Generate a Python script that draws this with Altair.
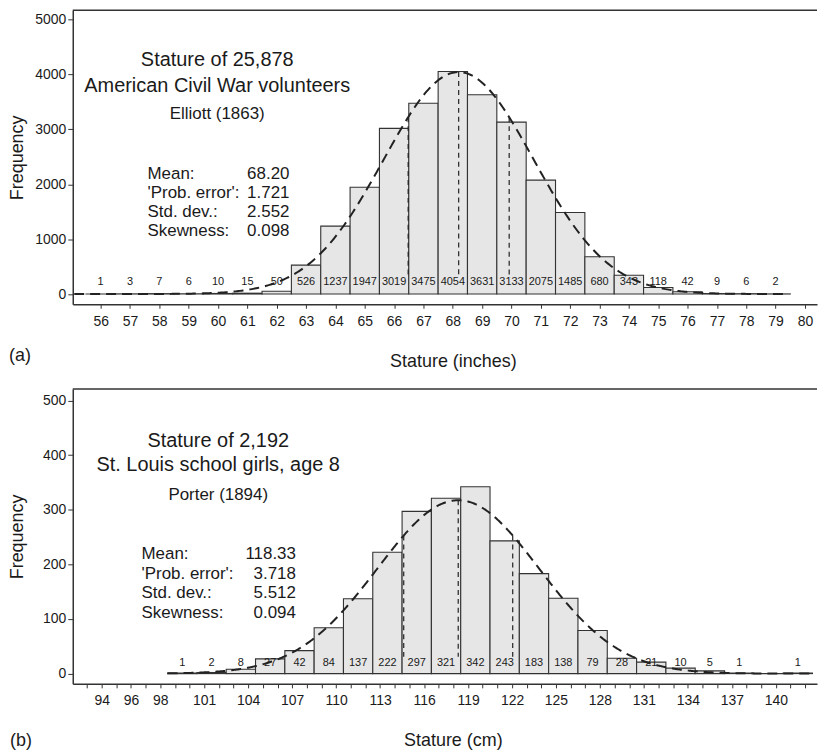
import altair as alt
import pandas as pd

FONT = "Liberation Sans"
INK = "#1a1a1a"
LINE = "#333333"

# ---------------- Panel (a): Elliott (1863), inches ----------------
a_bins = [56, 57, 58, 59, 60, 61, 62, 63, 64, 65, 66, 67, 68, 69, 70, 71, 72, 73, 74, 75, 76, 77, 78, 79]
a_counts = [1, 3, 7, 6, 10, 15, 50, 526, 1237, 1947, 3019, 3475, 4054, 3631, 3133, 2075, 1485, 680, 343, 118, 42, 9, 6, 2]
a_ticks = list(range(56, 81))
a_tick_labels = list(range(56, 81))
a_yticks = [0, 1000, 2000, 3000, 4000, 5000]
a_title = ["Stature of 25,878", "American Civil War volunteers"]
a_source = "Elliott (1863)"
a_stat_names = ["Mean:", "'Prob. error':", "Std. dev.:", "Skewness:"]
a_stat_values = ["68.20", "1.721", "2.552", "0.098"]
a_mean, a_pe, a_sd, a_n, a_binw = 68.20, 1.721, 2.552, 25878, 1.0

# ---------------- Panel (b): Porter (1894), cm ----------------
b_bins = [99.5, 101.5, 103.5, 105.5, 107.5, 109.5, 111.5, 113.5, 115.5, 117.5, 119.5,
          121.5, 123.5, 125.5, 127.5, 129.5, 131.5, 133.5, 135.5, 137.5, 139.5, 141.5]
b_counts = [1, 2, 8, 27, 42, 84, 137, 222, 297, 321, 342, 243, 183, 138, 79, 28, 21, 10, 5, 1, 0, 1]
b_ticks = list(range(93, 143))
b_tick_labels = [94, 96, 98, 101, 104, 107, 110, 113, 116, 119, 122, 125, 128, 131, 134, 137, 140]
b_yticks = [0, 100, 200, 300, 400, 500]
b_title = ["Stature of 2,192", "St. Louis school girls, age 8"]
b_source = "Porter (1894)"
b_stat_names = ["Mean:", "'Prob. error':", "Std. dev.:", "Skewness:"]
b_stat_values = ["118.33", "3.718", "5.512", "0.094"]
b_mean, b_pe, b_sd, b_n, b_binw = 118.33, 3.718, 5.512, 2192, 2.0

W = 747


def txt(s, x, y, size, align="center", baseline="middle"):
    return alt.Chart(pd.DataFrame({"t": [s]})).mark_text(
        text=s, font=FONT, fontSize=size, color=INK, align=align, baseline=baseline
    ).encode(x=alt.value(x), y=alt.value(y))


def panel(bins, counts, binw, ticks, tick_labels, yticks, xdom, ydom, height, label_y, line_base,
          mean, pe, sd, n, curve_from, curve_to, title, source, names, values,
          pos, xtitle, tag):
    df = pd.DataFrame({"bin": bins, "count": counts})
    xs = alt.Scale(domain=xdom, nice=False, zero=False)
    ys = alt.Scale(domain=ydom, nice=False, zero=False)
    lab_list = ",".join(str(v) for v in tick_labels)
    xaxis = alt.Axis(values=ticks, title=xtitle, grid=False, tickSize=4, labelPadding=6,
                     format="d",
                     labelFontSize=14, labelFont=FONT, labelColor=INK, labelOverlap=False,
                     labelFlush=False, labelExpr=f"indexof([{lab_list}], datum.value) >= 0 ? datum.label : ''",
                     titleFont=FONT, titleFontSize=18, titleFontWeight="normal", titleColor=INK,
                     titleX=381.5, titleY=57, titleBaseline="middle",
                     domainColor=LINE, domainWidth=1.5, tickColor=LINE)
    yaxis = alt.Axis(values=yticks, title="Frequency", grid=False, tickSize=5, labelPadding=2,
                     format="d",
                     labelFontSize=14, labelFont=FONT, labelColor=INK,
                     titleFont=FONT, titleFontSize=18, titleFontWeight="normal", titleColor=INK,
                     titleX=-55.5, titleY=height / 2, titleBaseline="middle",
                     domainColor=LINE, domainWidth=1.5, tickColor=LINE)
    half = binw / 2
    bars = alt.Chart(df).transform_calculate(
        lo=f"datum.bin - {half}", hi=f"datum.bin + {half}", base="0"
    ).mark_rect(fill="#e6e6e6", stroke=LINE, strokeWidth=1.1).encode(
        x=alt.X("lo:Q", scale=xs, axis=xaxis),
        x2="hi:Q",
        y=alt.Y("count:Q", scale=ys, axis=yaxis),
        y2="base:Q",
    )
    labels = alt.Chart(df).transform_filter("datum.count > 0").transform_calculate(
        ly=str(label_y)
    ).mark_text(
        font=FONT, fontSize=11, color=INK, baseline="middle"
    ).encode(x=alt.X("bin:Q", scale=xs, axis=xaxis),
             y=alt.Y("ly:Q", scale=ys, axis=yaxis), text="count:Q")
    dens = f"{n * binw}/({sd}*sqrt(2*PI))*exp(-0.5*pow((datum.x-{mean})/{sd},2))"
    curve = alt.Chart(alt.sequence(curve_from, curve_to, 0.05, as_="x")).transform_calculate(
        d=dens
    ).mark_line(color="#222222", strokeWidth=2, strokeDash=[10, 6]).encode(
        x=alt.X("x:Q", scale=xs, axis=xaxis), y=alt.Y("d:Q", scale=ys, axis=yaxis)
    )
    vl = alt.Chart(pd.DataFrame({"x": [mean - pe, mean, mean + pe]})).transform_calculate(
        d=dens, base=str(line_base)
    ).mark_rule(color="#222222", strokeWidth=1.2, strokeDash=[5, 4]).encode(
        x=alt.X("x:Q", scale=xs, axis=xaxis), y=alt.Y("d:Q", scale=ys, axis=yaxis), y2="base:Q"
    )
    topline = alt.Chart(pd.DataFrame({"a": [0]})).mark_rule(color=LINE, strokeWidth=1.5).encode(
        x=alt.value(0), x2=alt.value(W), y=alt.value(0)
    )
    layers = [bars, labels, vl, curve, topline]
    tx, ty1, ty2, ty3 = pos["title"]
    layers.append(txt(title[0], tx, ty1, 20))
    layers.append(txt(title[1], tx, ty2, 20))
    layers.append(txt(source, tx, ty3, 17))
    sx, vx, valign, sy0, sdy = pos["stats"]
    for i, (nm, v) in enumerate(zip(names, values)):
        layers.append(txt(nm, sx, sy0 + i * sdy, 17, align="left"))
        layers.append(txt(v, vx, sy0 + i * sdy, 17, align=valign))
    gx, gy = pos["tag"]
    layers.append(txt(tag, gx, gy, 18))
    return alt.layer(*layers).properties(width=W, height=height)


top = panel(a_bins, a_counts, a_binw, a_ticks, a_tick_labels, a_yticks,
            [55.05, 80.41], [-187, 5169], 295, 210, 330,
            a_mean, a_pe, a_sd, a_n, 55.1, 79.5, a_title, a_source, a_stat_names, a_stat_values,
            {"title": (145, 49.5, 75.7, 104.5), "stats": (75, 175, "left", 164, 19.3), "tag": (-53, 347)},
            "Stature (inches)", "(a)")

bottom = panel(b_bins, b_counts, b_binw, b_ticks, b_tick_labels, b_yticks,
               [92.03, 142.81], [-18.8, 521.0], 296, 20, 31,
               b_mean, b_pe, b_sd, b_n, 98.5, 142.5, b_title, b_source, b_stat_names, b_stat_values,
               {"title": (146, 52, 76.3, 106), "stats": (69, 224, "right", 165.3, 20), "tag": (-52, 353)},
               "Stature (cm)", "(b)")

chart = alt.vconcat(top, bottom, spacing=85, bounds="flush").properties(padding=0).configure_view(stroke=None)

chart.save("out.html", embed_options={"renderer": "svg", "actions": False})
